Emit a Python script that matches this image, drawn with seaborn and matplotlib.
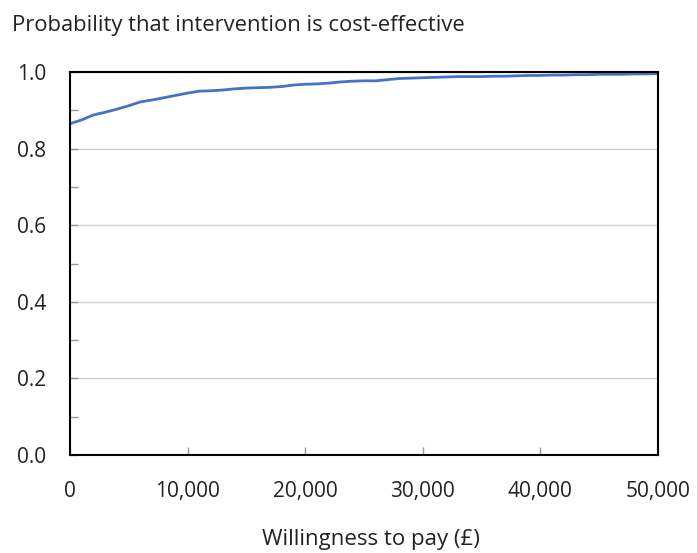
import numpy as np
import pandas as pd
import seaborn as sns
import matplotlib.pyplot as plt
from matplotlib.ticker import MultipleLocator, FuncFormatter

sns.set_style("white")
plt.rcParams['font.family'] = ['Open Sans', 'DejaVu Sans']

# willingness to pay (GBP) and probability cost-effective
wtp = [0, 1000, 2000, 3000, 4000, 5000, 6000, 7000, 8000, 9000,
       10000, 11000, 12000, 13000, 14000, 15000, 16000, 17000, 18000, 19000,
       20000, 21000, 22000, 23000, 24000, 25000, 26000, 27000, 28000, 29000,
       30000, 31000, 32000, 33000, 34000, 35000, 36000, 37000, 38000, 39000,
       40000, 41000, 42000, 43000, 44000, 45000, 46000, 47000, 48000, 49000,
       50000]
prob = [0.865, 0.875, 0.888, 0.895, 0.903, 0.912, 0.922, 0.927, 0.933, 0.939,
        0.945, 0.950, 0.951, 0.953, 0.956, 0.958, 0.959, 0.960, 0.962, 0.966,
        0.968, 0.969, 0.971, 0.974, 0.976, 0.977, 0.977, 0.980, 0.983, 0.984,
        0.985, 0.986, 0.987, 0.988, 0.988, 0.988, 0.989, 0.989, 0.990, 0.991,
        0.991, 0.992, 0.992, 0.993, 0.993, 0.994, 0.994, 0.994, 0.995, 0.995,
        0.996]

df = pd.DataFrame({'wtp': wtp, 'prob': prob})

fig = plt.figure(figsize=(6.97, 5.53), dpi=100)
ax = fig.add_axes([70 / 697, 1 - 455 / 553, 588 / 697, 383 / 553])

sns.lineplot(data=df, x='wtp', y='prob', ax=ax, color='#4472C4', lw=2)

ax.set_xlim(0, 50000)
ax.set_ylim(0, 1.0)
ax.xaxis.set_major_locator(MultipleLocator(10000))
ax.yaxis.set_major_locator(MultipleLocator(0.2))
ax.yaxis.set_minor_locator(MultipleLocator(0.1))
ax.xaxis.set_major_formatter(FuncFormatter(lambda v, p: '{:,.0f}'.format(v)))
ax.yaxis.set_major_formatter(FuncFormatter(lambda v, p: '{:.1f}'.format(v)))

ax.grid(axis='y', which='major', color='#d0d0d0', lw=1)
ax.set_axisbelow(True)
for s in ax.spines.values():
    s.set_color('black')
    s.set_linewidth(1.5)

ax.tick_params(axis='x', bottom=True, direction='in', length=6, color='#999999', width=1,
               labelsize=15, pad=19, labelcolor='#222222')
ax.tick_params(axis='y', which='both', left=True, direction='in', length=6, color='#999999',
               width=1, labelsize=15, pad=17, labelcolor='#222222')

ax.set_xlabel('')
ax.set_ylabel('')
fig.text(371 / 697, 1 - 540 / 553, 'Willingness to pay (£)',
         fontsize=16, color='#222222', ha='center', va='center')
fig.text(12 / 697, 1 - 25 / 553, 'Probability that intervention is cost-effective',
         fontsize=15.8, color='#222222', ha='left', va='center')

fig.savefig('out.png', dpi=100)
